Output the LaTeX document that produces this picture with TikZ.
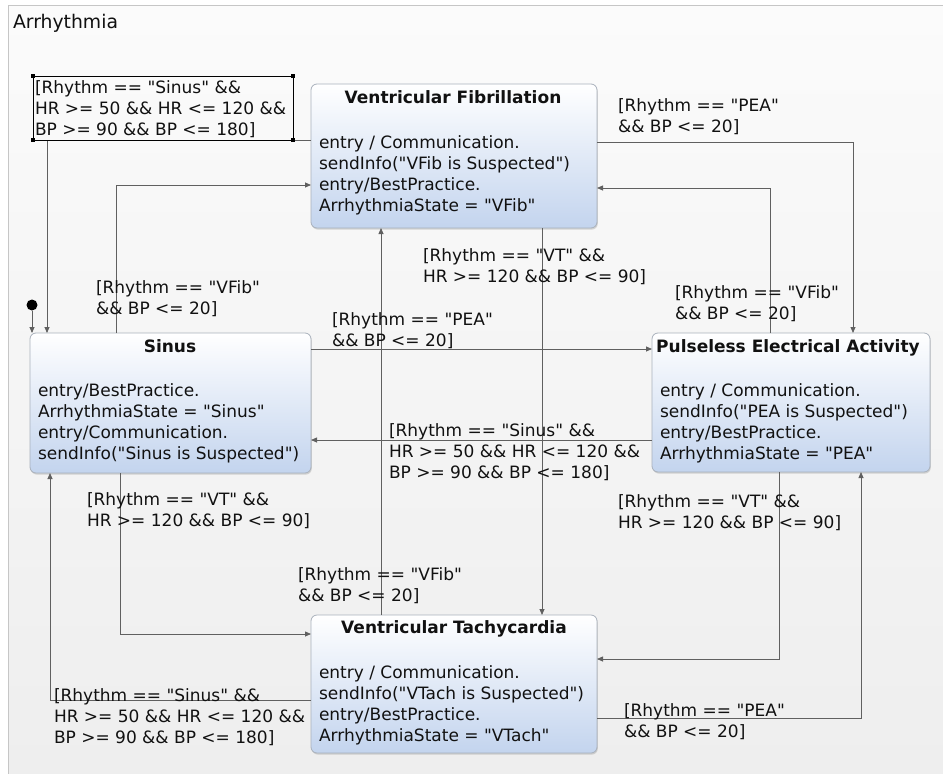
\documentclass[tikz,border=0pt]{standalone}
\usepackage{fontspec}
\setmainfont{DejaVu Sans}[Ligatures=TeXOff]
\usetikzlibrary{arrows.meta,shadows}

\definecolor{bgtop}{HTML}{FBFBFB}
\definecolor{bgbot}{HTML}{EEEEEE}
\definecolor{framecol}{HTML}{C6C6C6}
\definecolor{stateline}{HTML}{A9B1BC}
\definecolor{statefill}{HTML}{C3D4EE}
\definecolor{wire}{HTML}{606060}
\definecolor{ink}{HTML}{111111}

\begin{document}
% multi-line nodes below are placed by the baseline of their last line
\begin{tikzpicture}[x=1pt,y=-1pt,
  every node/.style={font=\fontsize{17}{21}\selectfont, inner sep=0pt, outer sep=0pt, text=ink},
  statebox/.style={draw=stateline, line width=0.8pt, rounded corners=6pt,
    top color=white, bottom color=statefill,
    drop shadow={shadow xshift=0.8pt, shadow yshift=-1.6pt, opacity=0.3}},
  statetitle/.style={anchor=base, font=\fontsize{17}{21}\selectfont\bfseries},
  statebody/.style={anchor=base west, align=left},
  guard/.style={anchor=base west, align=left},
  trans/.style={draw=wire, line width=0.8pt, -{Triangle[length=6pt,width=5pt]}},
  handle/.style={rectangle, fill=black, minimum size=3.6pt}
]
\useasboundingbox (0,0) rectangle (943,774);

% region background with its top and left border
\fill[top color=bgtop, bottom color=bgbot] (8,5) rectangle (943,774);
\draw[framecol, line width=0.9pt] (943,5) -- (8,5) -- (8,774);
\node[anchor=base west, font=\fontsize{18.8}{22}\selectfont] (regiontitle) at (13,28) {Arrhythmia};

% states
\node[statebox, minimum width=286pt, minimum height=144pt] (vfib) at (454,156) {};
\node[statebox, minimum width=281pt, minimum height=140pt] (sinus) at (170.5,403) {};
\node[statebox, minimum width=278pt, minimum height=139pt] (pea) at (791,402.5) {};
\node[statebox, minimum width=286pt, minimum height=138pt] (vt) at (454,684) {};

\node[statetitle] (vfibtitle) at (453,103) {Ventricular Fibrillation};
\node[statebody] (vfibbody) at (319,211) {entry / Communication.\\sendInfo("VFib is Suspected")\\entry/BestPractice.\\ArrhythmiaState = "VFib"};

\node[statetitle] (sinustitle) at (170,352) {Sinus};
\node[statebody] (sinusbody) at (38,459) {entry/BestPractice.\\ArrhythmiaState = "Sinus"\\entry/Communication.\\sendInfo("Sinus is Suspected")};

\node[statetitle] (peatitle) at (788,352) {Pulseless Electrical Activity};
\node[statebody] (peabody) at (660,459) {entry / Communication.\\sendInfo("PEA is Suspected")\\entry/BestPractice.\\ArrhythmiaState = "PEA"};

\node[statetitle] (vttitle) at (454,633) {Ventricular Tachycardia};
\node[statebody] (vtbody) at (319,741) {entry / Communication.\\sendInfo("VTach is Suspected")\\entry/BestPractice.\\ArrhythmiaState = "VTach"};

% initial pseudo state
\node[circle, fill=black, minimum size=11pt] (init) at (32,305) {};
\draw[trans] (init) -- (sinus.north -| init);

% routing points
\coordinate (c1) at (47,140);
\coordinate (c2) at (116,185);
\coordinate (c3) at (853,142);
\coordinate (c4) at (770,188);
\coordinate (c5) at (542,400);
\coordinate (c6) at (381,400);
\coordinate (c7) at (480,349);
\coordinate (c8) at (480,440);
\coordinate (c9) at (120,634);
\coordinate (c10) at (50,700);
\coordinate (c11) at (779,659);
\coordinate (c12) at (861,718);

% transitions
\draw[trans] (vfib.west |- c1) -- (c1) -- (sinus.north -| c1);
\draw[trans] (sinus.north -| c2) -- (c2) -- (vfib.west |- c2);
\draw[trans] (vfib.east |- c3) -- (c3) -- (pea.north -| c3);
\draw[trans] (pea.north -| c4) -- (c4) -- (vfib.east |- c4);
\draw[trans] (vfib.south -| c5) -- (vt.north -| c5);
\draw[trans] (vt.north -| c6) -- (vfib.south -| c6);
\draw[trans] (sinus.east |- c7) -- (pea.west |- c7);
\draw[trans] (pea.west |- c8) -- (sinus.east |- c8);
\draw[trans] (sinus.south -| c9) -- (c9) -- (vt.west |- c9);
\draw[trans] (vt.west |- c10) -- (c10) -- (sinus.south -| c10);
\draw[trans] (pea.south -| c11) -- (c11) -- (vt.east |- c11);
\draw[trans] (vt.east |- c12) -- (c12) -- (pea.south -| c12);

% guards
\node[draw=black, line width=0.8pt, minimum width=260pt, minimum height=64pt] (sel) at (163,108) {};
\node[handle] (h1) at (sel.north west) {};
\node[handle] (h2) at (sel.north east) {};
\node[handle] (h3) at (sel.south west) {};
\node[handle] (h4) at (sel.south east) {};
\node[guard] (g1) at (35,135) {[Rhythm == "Sinus" \&\&\\HR >= 50 \&\& HR <= 120 \&\&\\BP >= 90 \&\& BP <= 180]};
\node[guard] (g2) at (96,314) {[Rhythm == "VFib"\\\&\& BP <= 20]};
\node[guard] (g3) at (618,132) {[Rhythm == "PEA"\\\&\& BP <= 20]};
\node[guard] (g4) at (675,319) {[Rhythm == "VFib"\\\&\& BP <= 20]};
\node[guard] (g5) at (423,282) {[Rhythm == "VT" \&\&\\HR >= 120 \&\& BP <= 90]};
\node[guard] (g6) at (298,601) {[Rhythm == "VFib"\\\&\& BP <= 20]};
\node[guard] (g7) at (332,346) {[Rhythm == "PEA"\\\&\& BP <= 20]};
\node[guard] (g8) at (389,478) {[Rhythm == "Sinus" \&\&\\HR >= 50 \&\& HR <= 120 \&\&\\BP >= 90 \&\& BP <= 180]};
\node[guard] (g9) at (87,526) {[Rhythm == "VT" \&\&\\HR >= 120 \&\& BP <= 90]};
\node[guard] (g10) at (54,743) {[Rhythm == "Sinus" \&\&\\HR >= 50 \&\& HR <= 120 \&\&\\BP >= 90 \&\& BP <= 180]};
\node[guard] (g11) at (618,528) {[Rhythm == "VT" \&\&\\HR >= 120 \&\& BP <= 90]};
\node[guard] (g12) at (624,737) {[Rhythm == "PEA"\\\&\& BP <= 20]};
\end{tikzpicture}
\end{document}
